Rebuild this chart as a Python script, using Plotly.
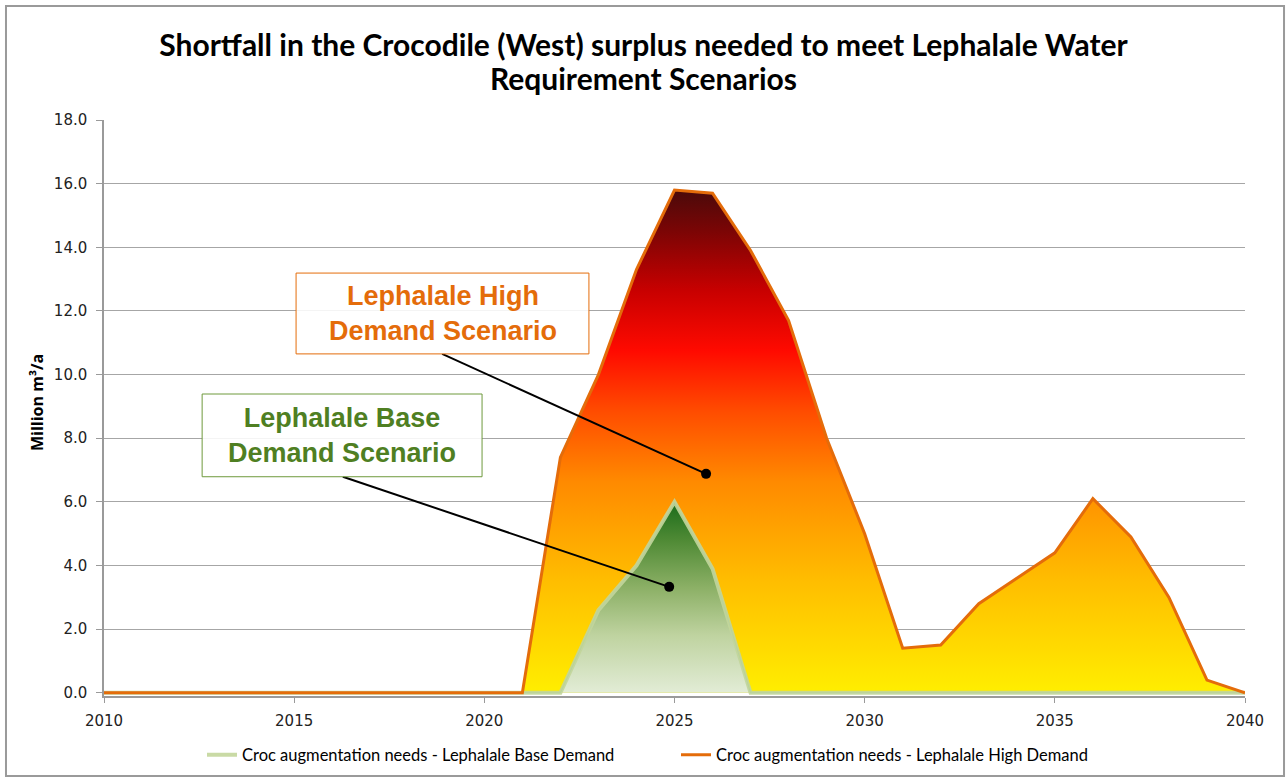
import plotly.graph_objects as go

years = list(range(2010, 2041))
high_demand = [0, 0, 0, 0, 0, 0, 0, 0, 0, 0, 0,
               0.0, 7.4, 10.0, 13.3, 15.8, 15.7, 13.9, 11.7, 8.0, 5.0,
               1.4, 1.5, 2.8, 3.6, 4.4, 6.1, 4.9, 3.0, 0.4, 0.0]
base_demand = [0, 0, 0, 0, 0, 0, 0, 0, 0, 0, 0,
               0, 0, 2.6, 4.0, 6.0, 3.9, 0, 0, 0, 0,
               0, 0, 0, 0, 0, 0, 0, 0, 0, 0]
series_names = ["Croc augmentation needs - Lephalale Base Demand",
                "Croc augmentation needs - Lephalale High Demand"]
title_line1 = "Shortfall in the Crocodile (West) surplus needed to meet Lephalale Water"
title_line2 = "Requirement Scenarios"
y_title = "Million m³/a"
y_ticks = [0, 2, 4, 6, 8, 10, 12, 14, 16, 18]
x_ticks = [2010, 2015, 2020, 2025, 2030, 2035, 2040]

ORANGE = "#E46C0A"
CYAN = "#4BACC6"
BASE_LINE = "#C3D69B"

fig = go.Figure()

# High demand gradient area
fig.add_trace(go.Scatter(
    x=years, y=high_demand, mode="lines", fill="tozeroy",
    line=dict(color=CYAN, width=1.2),
    fillgradient=dict(type="vertical", start=0, stop=max(high_demand),
                      colorscale=[[0.0, "#FFEE00"], [0.22, "#FFBE00"],
                                  [0.42, "#FF8A00"], [0.56, "#FF4C00"],
                                  [0.68, "#FF0A00"], [0.80, "#C80000"],
                                  [0.92, "#7A0505"], [1.0, "#4A0A0A"]]),
    showlegend=False, hoverinfo="skip"))

# Base demand gradient area
fig.add_trace(go.Scatter(
    x=years, y=base_demand, mode="lines", fill="tozeroy",
    line=dict(color=CYAN, width=1),
    fillgradient=dict(type="vertical", start=0, stop=max(base_demand),
                      colorscale=[[0.0, "#E2ECD6"], [0.3, "#BFD3A0"],
                                  [0.55, "#8CB066"], [0.8, "#4F8A35"],
                                  [1.0, "#1A6B1A"]]),
    showlegend=False, hoverinfo="skip"))

# Legend lines
fig.add_trace(go.Scatter(
    x=years, y=base_demand, mode="lines", name=series_names[0],
    line=dict(color=BASE_LINE, width=4), opacity=0.9))
fig.add_trace(go.Scatter(
    x=years, y=high_demand, mode="lines", name=series_names[1],
    line=dict(color=ORANGE, width=3)))

# Callout dots
fig.add_trace(go.Scatter(
    x=[2025.83, 2024.86], y=[6.88, 3.33], mode="markers",
    marker=dict(color="black", size=10), showlegend=False, hoverinfo="skip"))

shapes = [
    dict(type="line", xref="x", yref="y", x0=2018.89, y0=10.65, x1=2025.83, y1=6.88,
         line=dict(color="black", width=2)),
    dict(type="line", xref="x", yref="y", x0=2016.28, y0=6.79, x1=2024.86, y1=3.33,
         line=dict(color="black", width=2)),
    dict(type="rect", xref="x", yref="y", x0=2015.05, x1=2022.75, y0=10.65, y1=13.19,
         line=dict(color=ORANGE, width=1), fillcolor="rgba(255,255,255,0.88)"),
    dict(type="rect", xref="x", yref="y", x0=2012.58, x1=2019.94, y0=6.79, y1=9.39,
         line=dict(color="#6E9A3C", width=1), fillcolor="rgba(255,255,255,0.88)"),
    # chart border
    dict(type="rect", xref="paper", yref="paper", x0=-0.0859, x1=1.0342, y0=-0.139, y1=1.198,
         line=dict(color="#9A9A9A", width=2), fillcolor="rgba(0,0,0,0)", layer="below"),
]

annotations = [
    dict(text=title_line2, xref="paper", yref="paper", x=(643.5 - 104) / 1141,
         y=(696 - 78) / 576, xanchor="center", yanchor="middle", showarrow=False,
         font=dict(family="Lato", size=30, color="black", weight="bold")),
    dict(text="Lephalale High<br>Demand Scenario", xref="x", yref="y",
         x=(2015.05 + 2022.75) / 2, y=(10.65 + 13.19) / 2, showarrow=False,
         font=dict(family="Liberation Sans", size=27, color=ORANGE, weight="bold")),
    dict(text="Lephalale Base<br>Demand Scenario", xref="x", yref="y",
         x=(2012.58 + 2019.94) / 2, y=(6.79 + 9.39) / 2, showarrow=False,
         font=dict(family="Liberation Sans", size=27, color="#4F7F22", weight="bold")),
    dict(text=y_title, xref="paper", yref="paper", x=(37 - 104) / 1141,
         y=(696 - 403) / 576, textangle=-90,
         showarrow=False, xanchor="center", yanchor="middle",
         font=dict(family="Open Sans", size=16, color="black", weight="bold")),
]

fig.update_layout(
    width=1287, height=778,
    margin=dict(l=104, r=42, t=120, b=82, autoexpand=False),
    paper_bgcolor="white", plot_bgcolor="white",
    title=dict(text=title_line1, x=0.5, xref="container", xanchor="center",
               y=1 - 45 / 778, yref="container", yanchor="middle",
               font=dict(family="Lato", size=30, color="black", weight="bold")),
    xaxis=dict(range=[2010, 2040], tickvals=x_ticks, showgrid=False, zeroline=False,
               showline=True, linecolor="#9A9A9A", linewidth=1.5, automargin=False,
               ticks="outside", ticklen=5, tickcolor="#9A9A9A", ticklabelstandoff=5,
               tickfont=dict(family="DejaVu Sans", size=15, color="#222")),
    yaxis=dict(range=[-0.1, 18], tickvals=y_ticks, tickformat=".1f",
               showgrid=True, gridcolor="#A6A6A6", gridwidth=1, zeroline=False,
               showline=True, linecolor="#9A9A9A", linewidth=1.5, automargin=False,
               ticks="outside", ticklen=6, tickcolor="#9A9A9A", ticklabelstandoff=6,
               tickfont=dict(family="DejaVu Sans", size=15, color="#222")),
    legend=dict(orientation="h", xref="container", yref="container",
                x=202 / 1287, y=1 - 755 / 778, xanchor="left", yanchor="middle",
                font=dict(family="Lato", size=16.5, color="black"),
                entrywidth=429, bgcolor="rgba(0,0,0,0)"),
    shapes=shapes, annotations=annotations,
)

fig.write_html("out.html", config={"displayModeBar": False},
               post_script="document.body.style.margin='0';")
